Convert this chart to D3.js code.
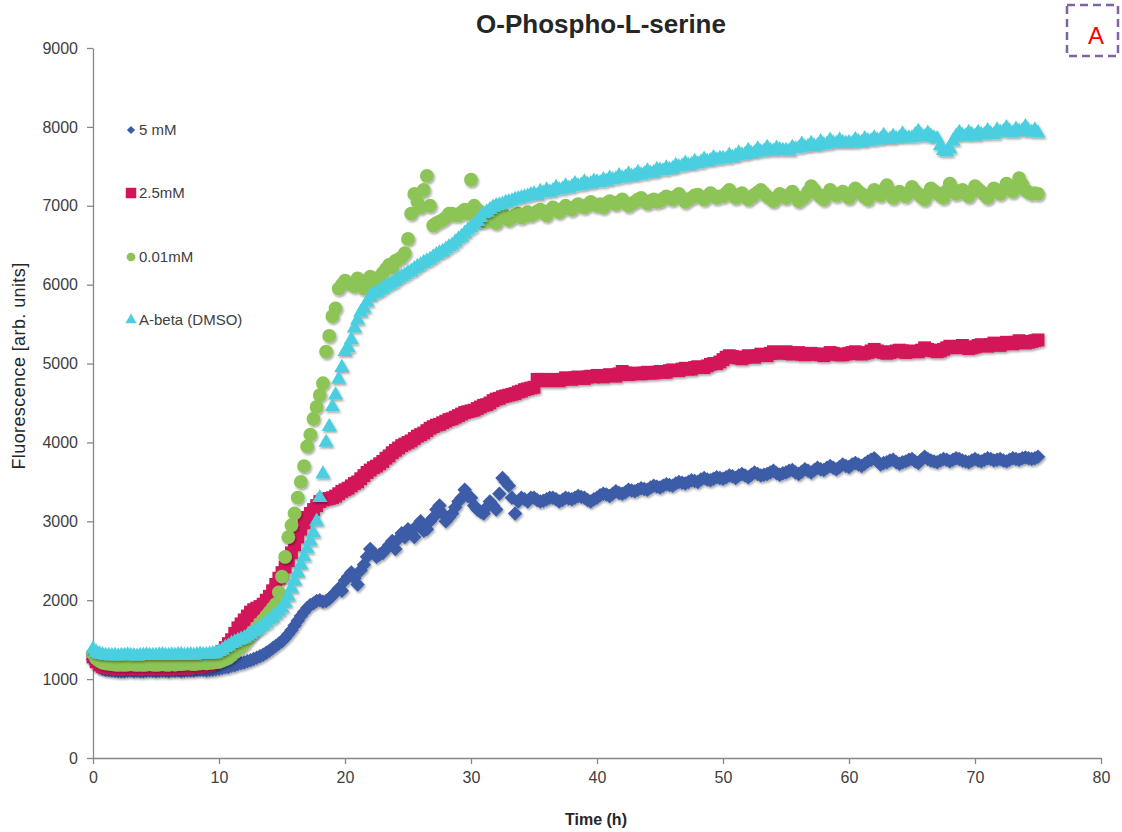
<!DOCTYPE html>
<html>
<head>
<meta charset="utf-8">
<script src="https://cdn.jsdelivr.net/npm/d3@7"></script>
<style>
  body { margin: 0; background: #fff; }
  #chart { width: 1122px; height: 832px; }
</style>
</head>
<body>
<div id="chart"></div>
<script>
const width = 1122, height = 832;
const margin = { top: 48, right: 21, bottom: 74, left: 93 };
const innerWidth = width - margin.left - margin.right;
const innerHeight = height - margin.top - margin.bottom;

// one plate reading every 15 min
const stepH = 0.25;

const xTicks = [0, 10, 20, 30, 40, 50, 60, 70, 80];
const yTicks = [0, 1000, 2000, 3000, 4000, 5000, 6000, 7000, 8000, 9000];

const seriesNames = ["5 mM", "2.5mM", "0.01mM", "A-beta (DMSO)"];
const seriesColors = ["#3c5ca8", "#d3145a", "#8dc456", "#4acfe0"];

// each row = 5 h
const mM5 = [
  1250,1190,1150,1130,1120,1115,1110,1105,1100,1100,1100,1105,1110,1100,1105,1100,1100,1105,1110,1105,
  1100,1105,1110,1105,1100,1110,1105,1110,1100,1105,1110,1110,1110,1115,1120,1115,1110,1115,1120,1125,
  1130,1140,1150,1155,1170,1175,1190,1200,1210,1225,1240,1255,1270,1290,1310,1335,1360,1390,1420,1450,
  1480,1520,1570,1620,1680,1740,1800,1850,1900,1940,1960,1990,2000,1980,1990,2020,2060,2100,2150,2120,
  2250,2300,2350,2280,2200,2380,2450,2550,2650,2600,2550,2580,2600,2650,2700,2750,2650,2780,2850,2800,
  2900,2850,2800,2950,3000,2880,2900,3000,3050,3150,3200,3100,3000,3050,3100,3180,3250,3300,3400,3320,
  3300,3200,3150,3120,3100,3180,3250,3200,3150,3350,3550,3500,3450,3300,3100,3250,3300,3280,3250,3300,
  3300,3270,3250,3260,3280,3300,3300,3280,3250,3270,3300,3290,3280,3300,3320,3310,3300,3270,3250,3280,
  3300,3330,3350,3340,3320,3350,3380,3360,3350,3370,3400,3390,3380,3400,3420,3410,3400,3430,3450,3440,
  3430,3450,3470,3460,3450,3480,3500,3490,3480,3500,3520,3510,3500,3530,3550,3530,3520,3540,3560,3550,
  3540,3560,3580,3570,3550,3580,3600,3580,3560,3590,3620,3600,3580,3590,3600,3620,3640,3610,3590,3610,
  3620,3640,3650,3620,3600,3630,3660,3640,3620,3650,3680,3660,3650,3680,3700,3680,3660,3690,3720,3700,
  3690,3720,3740,3720,3700,3730,3760,3780,3800,3760,3720,3740,3750,3770,3780,3750,3730,3750,3760,3780,
  3790,3760,3740,3780,3820,3790,3770,3760,3750,3770,3790,3780,3760,3780,3800,3790,3770,3760,3750,3770,
  3790,3770,3760,3780,3800,3790,3770,3780,3790,3770,3760,3780,3800,3790,3780,3800,3810,3800,3790,3800,
  3820
];

const mM2_5 = [
  1280,1220,1180,1160,1150,1145,1140,1140,1130,1135,1130,1135,1140,1135,1130,1135,1130,1135,1140,1135,
  1130,1135,1140,1135,1130,1140,1135,1140,1150,1145,1140,1150,1150,1155,1160,1165,1170,1180,1200,1240,
  1300,1350,1400,1450,1500,1580,1650,1700,1750,1800,1850,1880,1900,1920,1950,2000,2050,2120,2200,2280,
  2350,2420,2500,2600,2700,2800,2900,2980,3050,3100,3150,3200,3250,3270,3280,3290,3300,3320,3350,3380,
  3400,3420,3450,3480,3500,3540,3580,3620,3650,3680,3700,3730,3760,3800,3830,3870,3900,3930,3960,3980,
  4000,4020,4050,4080,4100,4120,4150,4180,4200,4220,4230,4250,4270,4290,4300,4320,4340,4360,4380,4390,
  4400,4410,4430,4450,4470,4480,4500,4530,4550,4560,4580,4590,4600,4610,4620,4640,4650,4670,4680,4690,
  4700,4800,4800,4790,4780,4790,4800,4790,4780,4800,4820,4810,4800,4820,4830,4820,4810,4830,4840,4830,
  4850,4840,4830,4850,4860,4850,4840,4870,4900,4880,4860,4870,4880,4870,4870,4880,4890,4880,4880,4890,
  4900,4890,4890,4910,4920,4910,4910,4930,4940,4930,4930,4950,4960,4950,4950,4970,4990,5000,5000,5020,
  5050,5080,5100,5090,5080,5070,5060,5080,5100,5090,5080,5100,5120,5110,5100,5130,5150,5140,5130,5140,
  5150,5130,5120,5130,5140,5120,5110,5120,5130,5120,5120,5110,5100,5120,5140,5130,5120,5110,5110,5120,
  5130,5140,5150,5130,5120,5130,5140,5160,5180,5160,5150,5140,5130,5140,5150,5160,5170,5160,5140,5150,
  5160,5150,5150,5170,5200,5180,5170,5160,5150,5160,5180,5200,5220,5210,5200,5210,5230,5210,5190,5200,
  5210,5230,5240,5230,5220,5240,5260,5250,5230,5250,5270,5260,5250,5270,5290,5280,5260,5270,5280,5290,
  5300
];

const mM0_01 = [
  1320,1260,1230,1210,1200,1195,1190,1185,1180,1185,1180,1185,1190,1185,1180,1185,1180,1185,1190,1185,
  1180,1185,1190,1185,1180,1190,1185,1190,1190,1195,1200,1195,1190,1195,1200,1205,1200,1205,1210,1215,
  1220,1235,1250,1270,1300,1340,1380,1410,1450,1500,1550,1600,1650,1700,1750,1800,1850,1900,1950,2100,
  2300,2550,2800,2950,3100,3300,3500,3700,3950,4100,4300,4450,4600,4750,5150,5350,5600,5700,5950,6000,
  6050,6020,6000,5980,6080,6050,5950,6000,6100,6080,6050,6100,6150,6200,6250,6220,6300,6320,6350,6400,
  6580,6900,7150,7050,6980,7200,7380,7000,6750,6780,6800,6820,6850,6900,6900,6880,6880,6920,6950,6900,
  7330,7000,6950,6900,6800,6820,6850,6800,6780,6850,6900,6860,6820,6850,6880,6900,6850,6870,6920,6880,
  6900,6930,6950,6910,6880,6940,6980,6950,6920,6960,7000,6970,6950,6990,7020,7000,6980,7010,7050,7020,
  7000,7020,6980,7030,7060,7040,7020,7050,7080,7040,7000,7030,7050,7080,7100,7060,7030,7060,7080,7050,
  7060,7090,7120,7100,7080,7120,7150,7100,7050,7080,7100,7130,7140,7110,7080,7120,7160,7130,7100,7120,
  7120,7160,7200,7150,7100,7130,7160,7120,7080,7110,7140,7170,7200,7160,7120,7090,7060,7100,7150,7120,
  7100,7140,7180,7120,7060,7090,7120,7180,7250,7200,7150,7110,7080,7140,7200,7160,7130,7150,7180,7140,
  7100,7160,7220,7180,7150,7110,7080,7140,7200,7170,7130,7200,7260,7180,7100,7140,7180,7150,7120,7170,
  7240,7190,7150,7110,7080,7150,7220,7190,7160,7130,7100,7190,7280,7210,7150,7170,7200,7160,7120,7180,
  7250,7210,7180,7140,7100,7160,7220,7190,7150,7210,7280,7230,7180,7260,7350,7270,7200,7170,7150,7160,
  7150
];

const abetaDMSO = [
  1380,1340,1320,1310,1300,1300,1295,1300,1290,1300,1300,1305,1300,1295,1290,1300,1300,1305,1300,1300,
  1300,1305,1310,1300,1300,1305,1300,1310,1310,1300,1305,1310,1300,1310,1315,1310,1310,1315,1320,1330,
  1350,1370,1400,1420,1450,1470,1490,1505,1520,1545,1570,1600,1620,1650,1680,1710,1750,1780,1820,1860,
  1900,1970,2050,2150,2250,2350,2450,2550,2650,2750,2850,3000,3300,3600,4000,4200,4450,4600,4800,4950,
  5150,5200,5300,5450,5550,5650,5700,5780,5850,5880,5900,5920,5950,5980,6000,6020,6050,6080,6100,6120,
  6150,6170,6200,6230,6250,6280,6300,6320,6350,6380,6400,6420,6450,6480,6500,6540,6580,6610,6650,6690,
  6720,6760,6800,6850,6900,6920,6950,6980,7000,7010,7020,7040,7050,7060,7080,7090,7100,7110,7120,7140,
  7150,7130,7180,7160,7200,7170,7190,7230,7200,7210,7250,7220,7240,7280,7250,7260,7300,7270,7280,7310,
  7300,7290,7330,7310,7350,7330,7340,7380,7350,7360,7400,7370,7380,7420,7390,7400,7440,7410,7420,7460,
  7450,7440,7480,7460,7470,7510,7490,7500,7540,7510,7520,7560,7530,7550,7590,7560,7570,7610,7580,7600,
  7600,7590,7640,7610,7630,7670,7640,7650,7700,7660,7670,7720,7680,7690,7740,7700,7690,7730,7710,7700,
  7700,7690,7740,7720,7730,7780,7740,7750,7790,7750,7760,7810,7770,7780,7830,7790,7790,7830,7800,7790,
  7800,7790,7840,7810,7800,7850,7820,7820,7860,7830,7840,7890,7840,7840,7880,7850,7860,7910,7860,7860,
  7860,7900,7940,7890,7870,7920,7880,7860,7850,7760,7700,7680,7720,7820,7880,7930,7890,7880,7930,7900,
  7880,7930,7900,7900,7950,7910,7900,7960,7930,7940,7990,7940,7920,7970,7940,7950,8000,7950,7930,7960,
  7920
];

const seriesValues = [mM5, mM2_5, mM0_01, abetaDMSO];

const fontFamily = "'Liberation Sans', Arial, sans-serif";

const svg = d3.select("#chart")
    .append("svg")
    .attr("width", width)
    .attr("height", height)
    .style("font-family", fontFamily);

// soft shadow like the spreadsheet markers
svg.append("defs").append("filter")
    .attr("id", "shadow")
    .attr("x", "-20%").attr("y", "-20%")
    .attr("width", "140%").attr("height", "140%")
    .append("feDropShadow")
    .attr("dx", 1.2).attr("dy", 1.8)
    .attr("stdDeviation", 1)
    .attr("flood-color", "#000")
    .attr("flood-opacity", 0.35);

const x = d3.scaleLinear().domain([0, 80]).range([0, innerWidth]);
const y = d3.scaleLinear().domain([0, 9000]).range([innerHeight, 0]);

const innerChart = svg.append("g")
    .attr("transform", `translate(${margin.left},${margin.top})`);

// marker shapes (first square is turned into a diamond)
const shapes = [
    d3.symbol().type(d3.symbolSquare).size(105),
    d3.symbol().type(d3.symbolSquare).size(165),
    d3.symbol().type(d3.symbolCircle).size(150),
    d3.symbol().type(d3.symbolTriangle).size(100)
];
const rotations = [45, 0, 0, 0];

// Axes
const axisColor = "#868686";
const xAxis = innerChart.append("g")
    .attr("transform", `translate(0,${innerHeight})`)
    .call(d3.axisBottom(x).tickValues(xTicks).tickFormat(d3.format("d"))
        .tickSize(6).tickSizeOuter(0).tickPadding(8));
const yAxis = innerChart.append("g")
    .call(d3.axisLeft(y).tickValues(yTicks).tickFormat(d3.format("d"))
        .tickSize(6).tickSizeOuter(0).tickPadding(9));

[xAxis, yAxis].forEach(ax => {
    ax.attr("font-family", fontFamily).attr("font-size", 16);
    ax.select(".domain").attr("stroke", axisColor).attr("stroke-width", 1.3);
    ax.selectAll(".tick line").attr("stroke", axisColor).attr("stroke-width", 1.3);
    ax.selectAll(".tick text").attr("fill", "#404040");
});

// Points, in series order so A-beta ends on top
seriesValues.forEach((vals, i) => {
    innerChart.append("g")
        .attr("filter", "url(#shadow)")
        .attr("fill", seriesColors[i])
        .selectAll("path")
        .data(vals)
        .join("path")
        .attr("d", shapes[i]())
        .attr("transform", (d, j) => `translate(${x(j * stepH)},${y(d)}) rotate(${rotations[i]})`);
});

// Legend
const legendShapes = [
    d3.symbol().type(d3.symbolSquare).size(34),
    d3.symbol().type(d3.symbolSquare).size(110),
    d3.symbol().type(d3.symbolCircle).size(60),
    d3.symbol().type(d3.symbolTriangle).size(55)
];
const legendY = [130, 193, 257, 320];
const legend = svg.append("g");
seriesNames.forEach((name, i) => {
    const item = legend.append("g")
        .attr("transform", `translate(131,${legendY[i]})`);
    item.append("path")
        .attr("d", legendShapes[i]())
        .attr("fill", seriesColors[i])
        .attr("transform", `rotate(${rotations[i]})`);
    item.append("text")
        .attr("x", 8)
        .attr("y", 5)
        .style("font-size", "15px")
        .style("fill", "#404040")
        .text(name);
});

// Title
svg.append("text")
    .attr("x", 601)
    .attr("y", 33)
    .attr("text-anchor", "middle")
    .style("font-size", "26px")
    .style("font-weight", "bold")
    .style("fill", "#262626")
    .text("O-Phospho-L-serine");

// Axis labels
svg.append("text")
    .attr("x", 596)
    .attr("y", 825)
    .attr("text-anchor", "middle")
    .style("font-size", "16px")
    .style("font-weight", "bold")
    .style("fill", "#262626")
    .text("Time (h)");

svg.append("text")
    .attr("transform", "rotate(-90)")
    .attr("x", -366)
    .attr("y", 25)
    .attr("text-anchor", "middle")
    .style("font-size", "18px")
    .style("letter-spacing", "0.4px")
    .style("fill", "#262626")
    .text("Fluorescence [arb. units]");

// Panel tag
svg.append("rect")
    .attr("x", 1067)
    .attr("y", 5)
    .attr("width", 51)
    .attr("height", 51)
    .attr("fill", "none")
    .attr("stroke", "#8064a2")
    .attr("stroke-width", 2.5)
    .attr("stroke-dasharray", "8,5");

svg.append("text")
    .attr("x", 1096)
    .attr("y", 44)
    .attr("text-anchor", "middle")
    .style("font-size", "24px")
    .style("fill", "#ff0000")
    .text("A");
</script>
</body>
</html>
